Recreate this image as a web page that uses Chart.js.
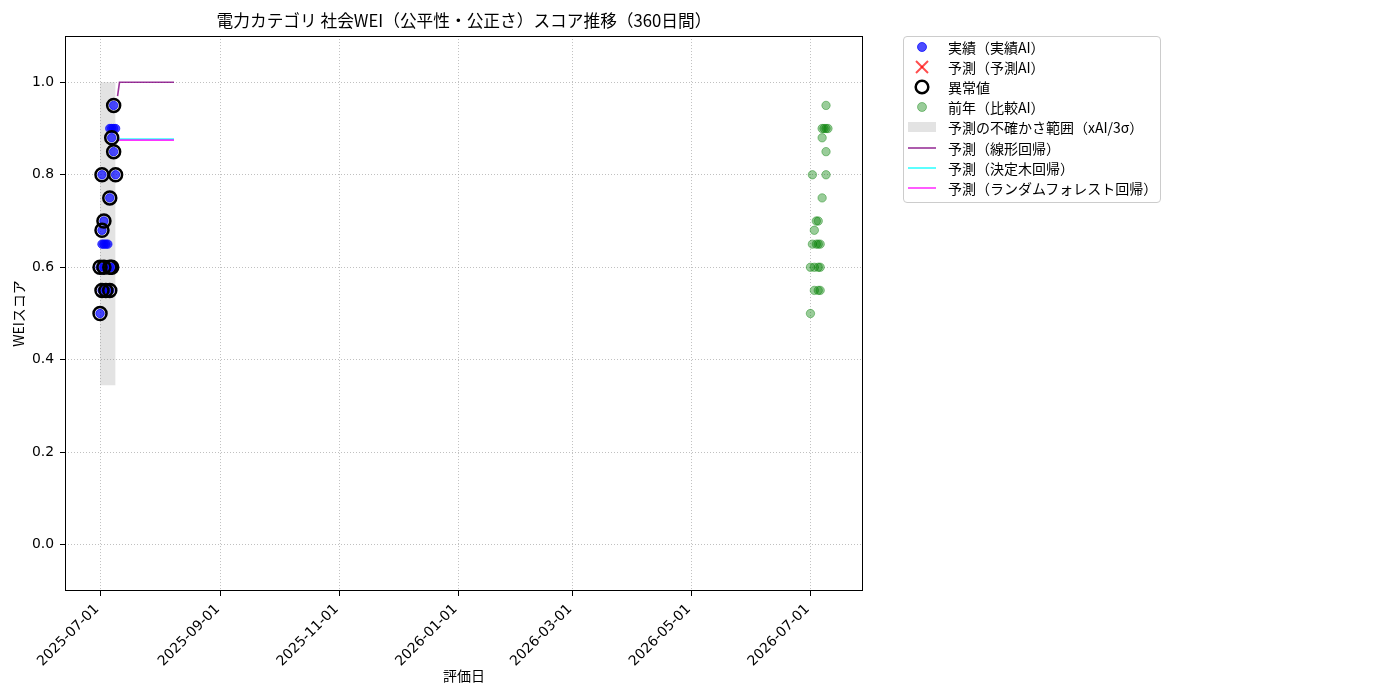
<!DOCTYPE html>
<html lang="ja">
<head>
<meta charset="utf-8">
<title>電力カテゴリ 社会WEI スコア推移</title>
<script src="https://cdn.jsdelivr.net/npm/chart.js@4.4.1/dist/chart.umd.min.js"></script>
<style>
  html, body { margin: 0; padding: 0; background: #fff; }
  #wrap { position: relative; width: 1400px; height: 700px; }
  #legend {
    position: absolute; left: 903px; top: 36px; width: 256px;
    border: 1px solid #cccccc; border-radius: 4px; padding: 0 0 4px 0;
    font: 14px "Noto Sans CJK JP", sans-serif; color: #000; background: #fff;
  }
  #legend .row { display: flex; align-items: center; height: 20.1px; white-space: nowrap; }
  #legend svg { margin-left: 3px; margin-right: 11px; flex: none; }
</style>
</head>
<body>
<div id="wrap">
  <canvas id="chart" width="1400" height="700"></canvas>
  <div id="legend"></div>
</div>
<script>
const chartTitle = '電力カテゴリ 社会WEI（公平性・公正さ）スコア推移（360日間）';

// 実績（実績AI）
const actualDates = [
  '2025-07-01', '2025-07-02', '2025-07-04', '2025-07-06',
  '2025-07-01', '2025-07-03', '2025-07-06', '2025-07-07',
  '2025-07-02', '2025-07-03', '2025-07-04', '2025-07-05',
  '2025-07-02', '2025-07-03', '2025-07-06', '2025-07-02',
  '2025-07-09', '2025-07-08', '2025-07-07',
  '2025-07-06', '2025-07-07', '2025-07-08', '2025-07-09', '2025-07-08'
];
const actualScores = [
  0.50, 0.55, 0.55, 0.55,
  0.60, 0.60, 0.60, 0.60,
  0.65, 0.65, 0.65, 0.65,
  0.68, 0.70, 0.75, 0.80,
  0.80, 0.85, 0.88,
  0.90, 0.90, 0.90, 0.90, 0.95
];

// 異常値
const anomalyDates = [
  '2025-07-01', '2025-07-02', '2025-07-04', '2025-07-06',
  '2025-07-01', '2025-07-03', '2025-07-06', '2025-07-07',
  '2025-07-02', '2025-07-03', '2025-07-06', '2025-07-02',
  '2025-07-09', '2025-07-08', '2025-07-07', '2025-07-08'
];
const anomalyScores = [
  0.50, 0.55, 0.55, 0.55,
  0.60, 0.60, 0.60, 0.60,
  0.68, 0.70, 0.75, 0.80,
  0.80, 0.85, 0.88, 0.95
];

// 予測（予測AI） - 点なし
const forecastAiDates = [];
const forecastAiScores = [];

// 前年（比較AI）
const prevYearDates = [
  '2026-07-01', '2026-07-03', '2026-07-05', '2026-07-06',
  '2026-07-01', '2026-07-03', '2026-07-05', '2026-07-06',
  '2026-07-02', '2026-07-04', '2026-07-05', '2026-07-06',
  '2026-07-03', '2026-07-04', '2026-07-05', '2026-07-07',
  '2026-07-02', '2026-07-09', '2026-07-09', '2026-07-07',
  '2026-07-07', '2026-07-08', '2026-07-09', '2026-07-10', '2026-07-09'
];
const prevYearScores = [
  0.50, 0.55, 0.55, 0.55,
  0.60, 0.60, 0.60, 0.60,
  0.65, 0.65, 0.65, 0.65,
  0.68, 0.70, 0.70, 0.75,
  0.80, 0.80, 0.85, 0.88,
  0.90, 0.90, 0.90, 0.90, 0.95
];

// 予測の不確かさ範囲（xAI/3σ）
const bandDates = ['2025-07-01', '2025-07-09'];
const bandUpper = [1.0, 1.0];
const bandLower = [0.345, 0.345];

// 回帰モデルによる予測
const forecastDates = [
  '2025-07-10', '2025-07-11', '2025-07-12', '2025-07-13', '2025-07-14',
  '2025-07-15', '2025-07-16', '2025-07-17', '2025-07-18', '2025-07-19',
  '2025-07-20', '2025-07-21', '2025-07-22', '2025-07-23', '2025-07-24',
  '2025-07-25', '2025-07-26', '2025-07-27', '2025-07-28', '2025-07-29',
  '2025-07-30', '2025-07-31', '2025-08-01', '2025-08-02', '2025-08-03',
  '2025-08-04', '2025-08-05', '2025-08-06', '2025-08-07', '2025-08-08'
];
const linearScores = [
  0.97, 1.00, 1.00, 1.00, 1.00, 1.00, 1.00, 1.00, 1.00, 1.00,
  1.00, 1.00, 1.00, 1.00, 1.00, 1.00, 1.00, 1.00, 1.00, 1.00,
  1.00, 1.00, 1.00, 1.00, 1.00, 1.00, 1.00, 1.00, 1.00, 1.00
];
const treeScores = [
  0.877, 0.877, 0.877, 0.877, 0.877, 0.877, 0.877, 0.877, 0.877, 0.877,
  0.877, 0.877, 0.877, 0.877, 0.877, 0.877, 0.877, 0.877, 0.877, 0.877,
  0.877, 0.877, 0.877, 0.877, 0.877, 0.877, 0.877, 0.877, 0.877, 0.877
];
const forestScores = [
  0.875, 0.875, 0.875, 0.875, 0.875, 0.875, 0.875, 0.875, 0.875, 0.875,
  0.875, 0.875, 0.875, 0.875, 0.875, 0.875, 0.875, 0.875, 0.875, 0.875,
  0.875, 0.875, 0.875, 0.875, 0.875, 0.875, 0.875, 0.875, 0.875, 0.875
];

// 軸
const xTickDates = ['2025-07-01', '2025-09-01', '2025-11-01', '2026-01-01', '2026-03-01', '2026-05-01', '2026-07-01'];
const yTickValues = [0.0, 0.2, 0.4, 0.6, 0.8, 1.0];
const xRange = ['2025-06-13', '2026-07-28'];
const yRange = [-0.1, 1.1];

const toMs = d => Date.parse(d + 'T00:00:00Z');
const points = (dates, values) => dates.map((d, i) => ({ x: toMs(d), y: values[i] }));
const fmtDate = v => new Date(v).toISOString().slice(0, 10);

Chart.defaults.font.family = '"Noto Sans CJK JP", "DejaVu Sans", sans-serif';
Chart.defaults.font.size = 14;
Chart.defaults.color = '#000';

const tickFont = { family: '"DejaVu Sans", sans-serif', size: 13.9 };

const datasets = [
  {
    type: 'scatter', label: '実績（実績AI）', data: points(actualDates, actualScores),
    backgroundColor: 'rgba(0,0,255,0.7)', borderColor: 'rgba(0,0,255,0.7)',
    pointRadius: 4.2, borderWidth: 1, order: 3, legendKind: 'dot'
  },
  {
    type: 'scatter', label: '予測（予測AI）', data: points(forecastAiDates, forecastAiScores),
    pointStyle: 'crossRot', borderColor: 'rgba(255,0,0,0.7)', backgroundColor: 'rgba(255,0,0,0.7)',
    pointRadius: 6, borderWidth: 2, order: 2, legendKind: 'cross'
  },
  {
    type: 'scatter', label: '異常値', data: points(anomalyDates, anomalyScores),
    backgroundColor: 'rgba(0,0,0,0)', borderColor: '#000',
    pointRadius: 6.5, borderWidth: 2.5, order: 1, legendKind: 'ring'
  },
  {
    type: 'scatter', label: '前年（比較AI）', data: points(prevYearDates, prevYearScores),
    backgroundColor: 'rgba(0,128,0,0.4)', borderColor: 'rgba(0,128,0,0.4)',
    pointRadius: 4.2, borderWidth: 1, order: 4, legendKind: 'dot'
  },
  {
    type: 'line', label: '', data: points(bandDates, bandUpper),
    borderColor: 'rgba(0,0,0,0)', borderWidth: 0, pointRadius: 0, fill: false, order: 9, legendKind: null
  },
  {
    type: 'line', label: '予測の不確かさ範囲（xAI/3σ）', data: points(bandDates, bandLower),
    borderColor: 'rgba(0,0,0,0)', borderWidth: 0, pointRadius: 0,
    backgroundColor: 'rgba(128,128,128,0.22)', fill: '-1', order: 8, legendKind: 'band'
  },
  {
    type: 'line', label: '予測（線形回帰）', data: points(forecastDates, linearScores),
    borderColor: 'rgba(128,0,128,0.8)', borderWidth: 1.6, pointRadius: 0, fill: false,
    tension: 0, order: 7, legendKind: 'line'
  },
  {
    type: 'line', label: '予測（決定木回帰）', data: points(forecastDates, treeScores),
    borderColor: 'rgba(0,255,255,0.8)', borderWidth: 1.6, pointRadius: 0, fill: false,
    tension: 0, order: 6, legendKind: 'line'
  },
  {
    type: 'line', label: '予測（ランダムフォレスト回帰）', data: points(forecastDates, forestScores),
    borderColor: 'rgba(255,0,255,0.8)', borderWidth: 1.6, pointRadius: 0, fill: false,
    tension: 0, order: 5, legendKind: 'line'
  }
];

// 枠線（上下左右）
const framePlugin = {
  id: 'frame',
  afterDraw(chart) {
    const { ctx, chartArea: a } = chart;
    ctx.save();
    ctx.strokeStyle = '#000';
    ctx.lineWidth = 1;
    ctx.strokeRect(Math.round(a.left) + 0.5, Math.round(a.top) + 0.5,
      Math.round(a.right - a.left) - 1, Math.round(a.bottom - a.top) - 1);
    ctx.restore();
  }
};

const gridStyle = {
  color: 'rgba(150,150,150,0.6)', lineWidth: 1,
  drawTicks: true, tickLength: 5, tickColor: '#000', tickWidth: 1
};

const chart = new Chart(document.getElementById('chart'), {
  data: { datasets: datasets },
  plugins: [framePlugin],
  options: {
    responsive: false,
    animation: false,
    events: [],
    layout: { padding: { left: 0, right: 537, top: 0, bottom: 0 } },
    plugins: {
      legend: { display: false },
      tooltip: { enabled: false },
      title: {
        display: true, text: chartTitle, fullSize: false,
        font: { size: 16.7, weight: 'normal' }, color: '#000',
        padding: { top: 11, bottom: 5 }
      }
    },
    scales: {
      x: {
        type: 'linear',
        min: toMs(xRange[0]), max: toMs(xRange[1]),
        afterBuildTicks: scale => { scale.ticks = xTickDates.map(d => ({ value: toMs(d) })); },
        afterFit: scale => { scale.height = 109; },
        ticks: {
          autoSkip: false, minRotation: 45, maxRotation: 45, padding: 5, labelOffset: -3,
          font: tickFont,
          callback: v => fmtDate(v)
        },
        grid: gridStyle,
        border: { display: false, dash: [1, 2] },
        title: { display: true, text: '評価日', font: { size: 14 }, padding: { top: 4, bottom: 15.6 } }
      },
      y: {
        type: 'linear',
        min: yRange[0], max: yRange[1],
        afterBuildTicks: scale => { scale.ticks = yTickValues.map(v => ({ value: v })); },
        afterFit: scale => { scale.width = 65; },
        ticks: { padding: 6, font: tickFont, callback: v => Number(v).toFixed(1) },
        grid: gridStyle,
        border: { display: false, dash: [1, 2] },
        title: { display: true, text: 'WEIスコア', font: { size: 14 }, padding: { top: 10.6, bottom: 4 } }
      }
    }
  }
});

// 凡例（HTML）
function markerSvg(ds) {
  let shape = '';
  if (ds.legendKind === 'dot') {
    shape = `<circle cx="15" cy="10" r="4.5" fill="${ds.backgroundColor}" stroke="${ds.borderColor}" stroke-width="1"/>`;
  } else if (ds.legendKind === 'cross') {
    shape = `<line x1="9" y1="4" x2="21" y2="16" stroke="${ds.borderColor}" stroke-width="2"/>` +
            `<line x1="21" y1="4" x2="9" y2="16" stroke="${ds.borderColor}" stroke-width="2"/>`;
  } else if (ds.legendKind === 'ring') {
    shape = `<circle cx="15" cy="10" r="6.3" fill="none" stroke="${ds.borderColor}" stroke-width="2.5"/>`;
  } else if (ds.legendKind === 'band') {
    shape = `<rect x="1" y="5" width="28" height="10" fill="${ds.backgroundColor}"/>`;
  } else if (ds.legendKind === 'line') {
    shape = `<line x1="1" y1="10" x2="29" y2="10" stroke="${ds.borderColor}" stroke-width="${ds.borderWidth}"/>`;
  }
  return `<svg width="30" height="20" viewBox="0 0 30 20">${shape}</svg>`;
}

const legendBox = document.getElementById('legend');
chart.data.datasets.forEach(ds => {
  if (!ds.legendKind) return;
  const row = document.createElement('div');
  row.className = 'row';
  row.innerHTML = markerSvg(ds) + '<span></span>';
  row.querySelector('span').textContent = ds.label;
  legendBox.appendChild(row);
});
</script>
</body>
</html>
